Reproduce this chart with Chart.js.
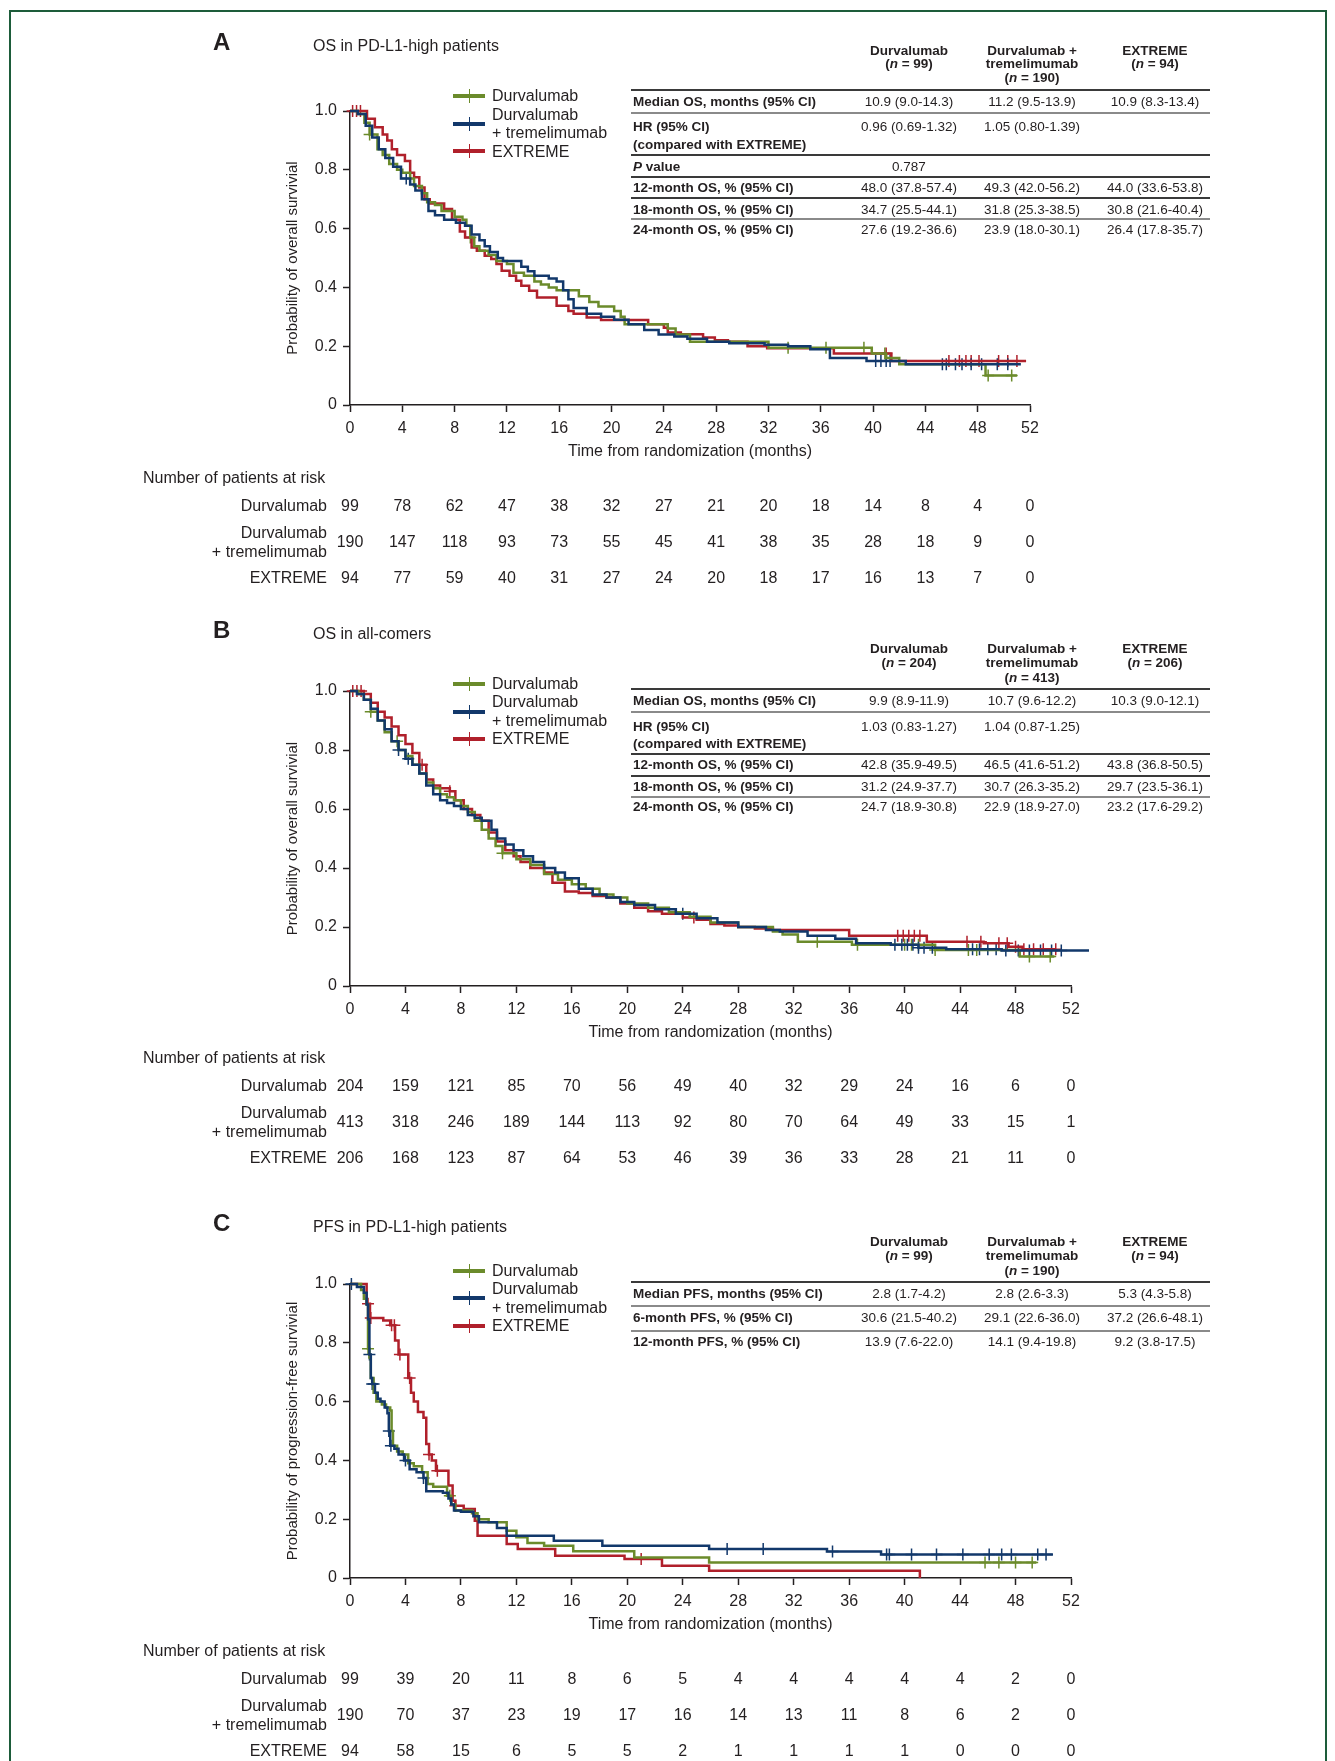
<!DOCTYPE html>
<html>
<head>
<meta charset="utf-8">
<title>Kaplan-Meier curves</title>
<script src="https://cdn.jsdelivr.net/npm/chart.js@4.4.1/dist/chart.umd.min.js"></script>
<style>
  html, body { margin: 0; padding: 0; background: #fff; }
  body { position: relative; width: 1335px; height: 1761px; overflow: hidden;
         font-family: "Liberation Sans", Arial, Helvetica, sans-serif; color: #231f20; }
  #frame { position: absolute; left: 9px; top: 10px; width: 1314px; height: 1800px;
           border: 2px solid #1d5c3a; border-bottom: none; }
  canvas { position: absolute; left: 0; }
  .t { position: absolute; white-space: nowrap; line-height: 1; }
  .box { position: absolute; }
</style>
</head>
<body>
<div id="frame"></div>
<canvas id="chartA" width="1335" height="600" style="top:0px"></canvas>
<canvas id="chartB" width="1335" height="580" style="top:600px"></canvas>
<canvas id="chartC" width="1335" height="581" style="top:1180px"></canvas>
<script>
var FONT = '"Liberation Sans", Arial, Helvetica, sans-serif';
var INK = '#231f20';
var GREEN = '#6b8b2b', BLUE = '#12386b', RED = '#b0202b';

// axes
var months = [0, 4, 8, 12, 16, 20, 24, 28, 32, 36, 40, 44, 48, 52];
var yTicks = [0, 0.2, 0.4, 0.6, 0.8, 1];
var yTickLabels = ['0', '0.2', '0.4', '0.6', '0.8', '1.0'];
var riskLabels = [['Durvalumab'], ['Durvalumab', '+ tremelimumab'], ['EXTREME']];
var legendLabels = [['Durvalumab'], ['Durvalumab', '+ tremelimumab'], ['EXTREME']];

// ---- A: OS in PD-L1-high patients ----
var aDurT = [0,0.6,1.1,1.5,2.1,2.5,3.0,3.6,4.0,4.6,4.9,5.5,5.9,6.5,7.0,8.0,8.6,8.9,9.2,9.5,9.9,10.6,11.2,12.0,12.5,13.3,14.1,14.6,15.2,15.8,17.5,18.3,19.0,20.2,20.7,21.0,24.3,24.9,26.0,32.0,39.9,41.0,42.0,48.6,51.0];
var aDurS = [1,0.99,0.96,0.92,0.87,0.85,0.82,0.80,0.79,0.77,0.745,0.72,0.69,0.68,0.66,0.64,0.63,0.61,0.57,0.54,0.525,0.51,0.49,0.48,0.45,0.44,0.42,0.41,0.40,0.39,0.37,0.35,0.335,0.32,0.30,0.275,0.26,0.24,0.215,0.195,0.175,0.16,0.139,0.10,0.10];
var aDurC = [1.5, 9.2, 33.5, 36.4, 39.3, 40.9, 48.8, 50.6];
var aDtT = [0,0.6,1.2,1.7,2.2,2.7,3.3,3.9,4.6,5.0,5.5,6.0,6.5,7.2,8.1,8.8,9.3,9.9,10.3,10.7,11.3,11.7,13.1,13.6,14.1,15.2,15.8,16.3,16.7,17.1,18.1,19.2,20.2,21.3,22.5,23.6,24.8,25.8,27.3,29.0,31.7,33.5,35.2,36.7,39.5,42.5,51.3];
var aDtS = [1,0.99,0.95,0.91,0.87,0.84,0.81,0.77,0.75,0.73,0.70,0.66,0.645,0.63,0.62,0.61,0.58,0.56,0.54,0.52,0.50,0.49,0.47,0.455,0.44,0.43,0.42,0.39,0.36,0.33,0.31,0.30,0.29,0.275,0.255,0.24,0.233,0.225,0.215,0.21,0.205,0.20,0.19,0.16,0.15,0.139,0.139];
var aDtC = [4.3, 40.2, 40.6, 41.0, 41.3, 45.3, 45.6, 46.3, 46.8, 47.5, 48.3, 49.5, 50.3];
var aExT = [0,1.3,1.9,2.5,2.85,3.2,3.6,4.2,4.6,4.9,5.3,5.7,6.1,7.2,7.8,8.4,8.8,9.3,9.7,10.3,10.8,11.2,11.6,12.2,12.7,13.1,13.7,14.3,15.8,16.7,17.1,18.1,19.2,22.8,24.0,24.3,25.3,27.0,27.9,28.9,30.4,31.9,37.0,41.4,51.7];
var aExS = [1,0.974,0.945,0.92,0.90,0.87,0.85,0.83,0.79,0.775,0.74,0.70,0.685,0.667,0.63,0.59,0.57,0.536,0.525,0.508,0.497,0.48,0.457,0.44,0.423,0.406,0.389,0.366,0.338,0.32,0.31,0.298,0.289,0.275,0.263,0.247,0.241,0.23,0.22,0.215,0.20,0.193,0.175,0.15,0.15];
var aExC = [0.2, 0.5, 0.8, 41.0, 45.8, 46.6, 47.1, 47.5, 48.1, 49.6, 50.3, 51.0];
var aRiskDur = [99, 78, 62, 47, 38, 32, 27, 21, 20, 18, 14, 8, 4, 0];
var aRiskDt = [190, 147, 118, 93, 73, 55, 45, 41, 38, 35, 28, 18, 9, 0];
var aRiskEx = [94, 77, 59, 40, 31, 27, 24, 20, 18, 17, 16, 13, 7, 0];
var tabAHeads = [['Durvalumab', '(<i>n</i> = 99)'], ['Durvalumab +', 'tremelimumab', '(<i>n</i> = 190)'], ['EXTREME', '(<i>n</i> = 94)']];
var tabARows = [
  [['Median OS, months (95% CI)'], '10.9 (9.0-14.3)', '11.2 (9.5-13.9)', '10.9 (8.3-13.4)'],
  [['HR (95% CI)', '(compared with EXTREME)'], '0.96 (0.69-1.32)', '1.05 (0.80-1.39)', ''],
  [['<i>P</i> value'], '0.787', '', ''],
  [['12-month OS, % (95% CI)'], '48.0 (37.8-57.4)', '49.3 (42.0-56.2)', '44.0 (33.6-53.8)'],
  [['18-month OS, % (95% CI)'], '34.7 (25.5-44.1)', '31.8 (25.3-38.5)', '30.8 (21.6-40.4)'],
  [['24-month OS, % (95% CI)'], '27.6 (19.2-36.6)', '23.9 (18.0-30.1)', '26.4 (17.8-35.7)']
];

// ---- B: OS in all-comers ----
var bDurT = [0,0.6,1.0,1.5,2.0,2.5,3.0,3.5,4.0,4.5,5.0,5.5,6.0,6.5,7.0,7.5,8.0,8.5,9.0,9.5,10.0,10.5,11.0,12.0,13.0,14.0,15.0,16.0,17.0,18.0,19.0,20.0,21.5,23.0,24.5,26.0,28.0,30.5,31.2,32.3,36.2,42.2,48.3,50.8];
var bDurS = [1,0.99,0.97,0.93,0.90,0.86,0.83,0.80,0.78,0.75,0.72,0.69,0.67,0.65,0.64,0.63,0.61,0.59,0.56,0.53,0.50,0.475,0.45,0.43,0.41,0.38,0.36,0.345,0.33,0.31,0.30,0.28,0.265,0.25,0.235,0.215,0.20,0.185,0.175,0.15,0.14,0.122,0.10,0.10];
var bDurC = [1.5, 3.4, 11.0, 33.7, 36.6, 40.0, 40.5, 41.0, 42.2, 44.6, 45.2, 49.0, 50.5];
var bDtT = [0,0.5,1.0,1.5,2.0,2.5,3.0,3.5,4.0,4.5,5.0,5.5,6.0,6.5,7.0,7.5,8.0,8.5,9.0,9.5,10.2,10.6,11.2,11.8,12.5,13.2,14.0,14.8,15.5,16.5,17.5,18.5,19.5,20.5,22.0,23.5,25.0,26.5,28.0,30.0,31.0,33.0,35.0,36.5,39.0,41.0,43.0,47.0,53.3];
var bDtS = [1,0.99,0.97,0.94,0.90,0.87,0.83,0.80,0.77,0.75,0.72,0.68,0.65,0.63,0.62,0.61,0.60,0.58,0.57,0.56,0.53,0.50,0.48,0.46,0.44,0.42,0.40,0.385,0.365,0.33,0.31,0.30,0.285,0.275,0.26,0.245,0.23,0.215,0.20,0.19,0.185,0.17,0.16,0.145,0.14,0.13,0.125,0.12,0.12];
var bDtC = [3.5, 4.2, 24.0, 39.3, 39.8, 40.2, 40.6, 41.0, 41.4, 42.0, 44.9, 45.4, 46.0, 46.6, 47.3, 48.2, 49.0, 49.8, 50.6, 51.3, 53.3];
var bExT = [0,1.0,1.5,2.0,2.5,3.0,3.5,4.0,4.5,5.0,5.5,6.0,6.5,7.2,7.6,8.2,8.8,9.4,10.0,10.6,11.2,11.8,12.3,13.0,14.0,14.6,15.5,16.5,17.5,18.5,19.5,20.5,21.5,22.5,24.0,25.0,26.0,27.0,28.0,29.2,30.5,36.0,41.6,45.7,47.5,48.5,50.9];
var bExS = [1,0.99,0.96,0.93,0.91,0.88,0.85,0.82,0.79,0.75,0.70,0.68,0.67,0.66,0.63,0.60,0.58,0.56,0.52,0.49,0.46,0.44,0.42,0.40,0.385,0.35,0.32,0.315,0.305,0.30,0.28,0.265,0.253,0.245,0.232,0.225,0.21,0.205,0.20,0.195,0.19,0.17,0.15,0.145,0.133,0.125,0.125];
var bExC = [0.2, 0.5, 0.8, 5.2, 7.2, 24.8, 39.5, 39.9, 40.3, 40.7, 41.1, 44.5, 45.5, 46.8, 47.4, 48.0, 48.6, 49.3, 50.0, 50.9];
var bRiskDur = [204, 159, 121, 85, 70, 56, 49, 40, 32, 29, 24, 16, 6, 0];
var bRiskDt = [413, 318, 246, 189, 144, 113, 92, 80, 70, 64, 49, 33, 15, 1];
var bRiskEx = [206, 168, 123, 87, 64, 53, 46, 39, 36, 33, 28, 21, 11, 0];
var tabBHeads = [['Durvalumab', '(<i>n</i> = 204)'], ['Durvalumab +', 'tremelimumab', '(<i>n</i> = 413)'], ['EXTREME', '(<i>n</i> = 206)']];
var tabBRows = [
  [['Median OS, months (95% CI)'], '9.9 (8.9-11.9)', '10.7 (9.6-12.2)', '10.3 (9.0-12.1)'],
  [['HR (95% CI)', '(compared with EXTREME)'], '1.03 (0.83-1.27)', '1.04 (0.87-1.25)', ''],
  [['12-month OS, % (95% CI)'], '42.8 (35.9-49.5)', '46.5 (41.6-51.2)', '43.8 (36.8-50.5)'],
  [['18-month OS, % (95% CI)'], '31.2 (24.9-37.7)', '30.7 (26.3-35.2)', '29.7 (23.5-36.1)'],
  [['24-month OS, % (95% CI)'], '24.7 (18.9-30.8)', '22.9 (18.9-27.0)', '23.2 (17.6-29.2)']
];

// ---- C: PFS in PD-L1-high patients ----
var cDurT = [0,0.8,1.0,1.2,1.3,1.4,1.5,1.7,1.9,2.3,2.6,2.9,3.0,3.1,3.4,3.8,4.2,4.6,5.2,5.6,6.0,7.0,7.3,7.6,8.8,9.2,10.0,11.3,12.0,12.8,14.0,16.1,20.5,25.9,49.5];
var cDurS = [1,0.98,0.95,0.93,0.78,0.75,0.68,0.63,0.60,0.59,0.58,0.57,0.50,0.45,0.43,0.42,0.39,0.38,0.36,0.32,0.31,0.28,0.25,0.23,0.22,0.20,0.19,0.161,0.139,0.119,0.11,0.091,0.07,0.053,0.053];
var cDurC = [1.3, 7.2, 45.8, 46.8, 48.0, 49.2];
var cDtT = [0,0.5,1.0,1.2,1.3,1.4,1.5,1.6,1.8,2.0,2.2,2.5,2.7,2.8,2.9,3.2,3.5,3.9,4.3,4.8,5.3,5.5,6.7,7.1,7.3,7.5,8.0,8.9,9.3,10.6,11.3,14.7,18.2,25.9,34.4,38.3,50.7];
var cDtS = [1,0.99,0.97,0.93,0.88,0.76,0.68,0.66,0.63,0.61,0.60,0.58,0.56,0.50,0.45,0.44,0.42,0.40,0.37,0.36,0.34,0.295,0.29,0.27,0.25,0.23,0.225,0.21,0.19,0.17,0.144,0.127,0.11,0.099,0.09,0.08,0.08];
var cDtC = [0.1, 1.4, 1.6, 1.7, 2.8, 2.95, 4.0, 5.3, 27.2, 29.8, 34.8, 38.7, 38.9, 40.5, 42.3, 44.2, 46.1, 47.0, 47.7, 49.6, 50.2];
var cExT = [0,1.2,1.44,2.4,2.9,3.25,3.5,4.2,4.4,4.6,4.9,5.3,5.5,5.7,5.9,6.2,7.1,7.4,7.6,8.2,9.0,9.2,11.3,12.1,14.8,19.8,22.5,25.9,41.1];
var cExS = [1,0.933,0.884,0.876,0.86,0.808,0.76,0.68,0.63,0.60,0.565,0.545,0.456,0.42,0.40,0.365,0.315,0.263,0.246,0.235,0.195,0.144,0.116,0.099,0.076,0.065,0.042,0.025,0];
var cExC = [1.3, 1.5, 3.0, 3.2, 3.6, 4.3, 5.7, 6.3, 7.6, 21.0];
var cRiskDur = [99, 39, 20, 11, 8, 6, 5, 4, 4, 4, 4, 4, 2, 0];
var cRiskDt = [190, 70, 37, 23, 19, 17, 16, 14, 13, 11, 8, 6, 2, 0];
var cRiskEx = [94, 58, 15, 6, 5, 5, 2, 1, 1, 1, 1, 0, 0, 0];
var tabCHeads = [['Durvalumab', '(<i>n</i> = 99)'], ['Durvalumab +', 'tremelimumab', '(<i>n</i> = 190)'], ['EXTREME', '(<i>n</i> = 94)']];
var tabCRows = [
  [['Median PFS, months (95% CI)'], '2.8 (1.7-4.2)', '2.8 (2.6-3.3)', '5.3 (4.3-5.8)'],
  [['6-month PFS, % (95% CI)'], '30.6 (21.5-40.2)', '29.1 (22.6-36.0)', '37.2 (26.6-48.1)'],
  [['12-month PFS, % (95% CI)'], '13.9 (7.6-22.0)', '14.1 (9.4-19.8)', '9.2 (3.8-17.5)']
];

var colors = [GREEN, BLUE, RED];
var colX = [909, 1032, 1155];

var panels = [
  { id: 'chartA', top: 0, h: 600, area: { top: 111, bottom: 405, right: 1030 },
    letter: 'A', letterY: 42, title: 'OS in PD-L1-high patients', titleY: 46,
    yTitle: 'Probability of overall survivial',
    arms: [[aDurT, aDurS, aDurC], [aDtT, aDtS, aDtC], [aExT, aExS, aExC]],
    risk: [aRiskDur, aRiskDt, aRiskEx], riskTitleY: 479, riskY: [507, 543, 579],
    legY: [96, 124, 151], legTextY: [[96], [115, 133], [152]],
    heads: tabAHeads, headY: [51, 64, 78], rows: tabARows,
    rowY: [[102], [127, 145], [167], [188], [210], [230]],
    rules: [90, 113, 155, 177, 198, 219], ruleDark: [1, 0, 1, 1, 1, 0] },
  { id: 'chartB', top: 600, h: 580, area: { top: 691, bottom: 986, right: 1071 },
    letter: 'B', letterY: 630, title: 'OS in all-comers', titleY: 634,
    yTitle: 'Probability of overall survivial',
    arms: [[bDurT, bDurS, bDurC], [bDtT, bDtS, bDtC], [bExT, bExS, bExC]],
    risk: [bRiskDur, bRiskDt, bRiskEx], riskTitleY: 1059, riskY: [1087, 1123, 1159],
    legY: [684, 712, 739], legTextY: [[684], [702, 721], [739]],
    heads: tabBHeads, headY: [649, 663, 678], rows: tabBRows,
    rowY: [[701], [727, 744], [765], [787], [807]],
    rules: [689, 712, 754, 776, 797], ruleDark: [1, 0, 1, 1, 0] },
  { id: 'chartC', top: 1180, h: 581, area: { top: 1284, bottom: 1578, right: 1071 },
    letter: 'C', letterY: 1223, title: 'PFS in PD-L1-high patients', titleY: 1227,
    yTitle: 'Probability of progression-free survivial',
    arms: [[cDurT, cDurS, cDurC], [cDtT, cDtS, cDtC], [cExT, cExS, cExC]],
    risk: [cRiskDur, cRiskDt, cRiskEx], riskTitleY: 1652, riskY: [1680, 1716, 1752],
    legY: [1271, 1298, 1326], legTextY: [[1271], [1289, 1308], [1326]],
    heads: tabCHeads, headY: [1242, 1256, 1271], rows: tabCRows,
    rowY: [[1294], [1318], [1342]],
    rules: [1282, 1306, 1331], ruleDark: [1, 0, 0] }
];

function stepAt(ts, ss, t) {
  var v = ss[0];
  for (var i = 0; i < ts.length; i++) { if (ts[i] <= t) v = ss[i]; }
  return v;
}

function addText(html, x, cy, size, opt) {
  opt = opt || {};
  var d = document.createElement('div');
  d.className = 't';
  d.innerHTML = html;
  d.style.fontSize = size + 'px';
  d.style.top = (cy - size / 2) + 'px';
  if (opt.center) { d.style.left = (x - 100) + 'px'; d.style.width = '200px'; d.style.textAlign = 'center'; }
  else d.style.left = x + 'px';
  if (opt.bold) d.style.fontWeight = 'bold';
  document.body.appendChild(d);
}

function addBox(x, y, w, h, color) {
  var d = document.createElement('div');
  d.className = 'box';
  d.style.left = x + 'px'; d.style.top = y + 'px';
  d.style.width = w + 'px'; d.style.height = h + 'px';
  d.style.background = color;
  document.body.appendChild(d);
}

function riskPlugin(p) {
  return {
    id: 'risk' + p.id,
    afterDraw: function(chart) {
      var ctx = chart.ctx, xs = chart.scales.x;
      ctx.save();
      ctx.fillStyle = INK;
      ctx.font = '16px ' + FONT;
      ctx.textBaseline = 'middle';
      ctx.textAlign = 'left';
      ctx.fillText('Number of patients at risk', 143, p.riskTitleY - p.top);
      p.risk.forEach(function(vals, r) {
        var y = p.riskY[r] - p.top;
        var lab = riskLabels[r];
        ctx.textAlign = 'right';
        if (lab.length === 1) ctx.fillText(lab[0], 327, y);
        else { ctx.fillText(lab[0], 327, y - 9.5); ctx.fillText(lab[1], 327, y + 9.5); }
        ctx.textAlign = 'center';
        vals.forEach(function(v, i) { ctx.fillText(String(v), xs.getPixelForValue(months[i]), y); });
      });
      ctx.restore();
    }
  };
}

function drawPanel(p) {
  var ds = [];
  // curves: blue on top, then green, then red
  [1, 0, 2].forEach(function(k) {
    var a = p.arms[k];
    ds.push({
      data: a[0].map(function(t, i) { return { x: t, y: a[1][i] }; }),
      borderColor: colors[k], borderWidth: 2.5, stepped: 'before',
      pointRadius: 0, fill: false, clip: false
    });
  });
  [1, 0, 2].forEach(function(k) {
    var a = p.arms[k];
    ds.push({
      data: a[2].map(function(t) { return { x: t, y: stepAt(a[0], a[1], t) }; }),
      showLine: false, pointStyle: 'cross', pointRadius: 6, pointBorderWidth: 1.5,
      borderColor: colors[k], pointBorderColor: colors[k], clip: false
    });
  });

  var axisFont = { family: FONT, size: 16 };
  var gridOpts = { drawOnChartArea: false, drawTicks: true, tickLength: 7, tickWidth: 1.5, tickColor: INK };
  new Chart(document.getElementById(p.id).getContext('2d'), {
    type: 'line',
    data: { datasets: ds },
    options: {
      responsive: false, animation: false, events: [],
      layout: { padding: { left: 284, right: 1335 - p.area.right, top: p.area.top - p.top,
                           bottom: p.top + p.h - p.area.bottom - 56 } },
      plugins: { legend: { display: false }, tooltip: { enabled: false } },
      scales: {
        x: {
          type: 'linear', min: 0, max: 52,
          afterBuildTicks: function(s) { s.ticks = months.map(function(v) { return { value: v }; }); },
          afterFit: function(s) { s.height = 56; },
          grid: gridOpts,
          border: { display: true, color: INK, width: 1.5 },
          ticks: { color: INK, font: axisFont, padding: 7, maxRotation: 0, autoSkip: false },
          title: { display: true, text: 'Time from randomization (months)', color: INK,
                   font: { family: FONT, size: 16 }, padding: 0 }
        },
        y: {
          type: 'linear', min: 0, max: 1,
          afterBuildTicks: function(s) { s.ticks = yTicks.map(function(v) { return { value: v }; }); },
          afterFit: function(s) { s.width = 66; },
          grid: gridOpts,
          border: { display: true, color: INK, width: 1.5 },
          ticks: { color: INK, font: axisFont, padding: 6,
                   callback: function(v, i) { return yTickLabels[i]; } },
          title: { display: true, text: p.yTitle, color: INK, font: { family: FONT, size: 15 }, padding: 0 }
        }
      }
    },
    plugins: [riskPlugin(p)]
  });

  // letter and title
  addText(p.letter, 213, p.letterY, 24, { bold: true });
  addText(p.title, 313, p.titleY, 16);

  // legend
  for (var k = 0; k < 3; k++) {
    addBox(453, p.legY[k] - 2, 32, 4, colors[k]);
    addBox(468.5, p.legY[k] - 7, 1.5, 14, colors[k]);
    legendLabels[k].forEach(function(line, j) { addText(line, 492, p.legTextY[k][j], 16); });
  }

  // summary table
  p.heads.forEach(function(lines, c) {
    lines.forEach(function(line, j) { addText(line, colX[c], p.headY[j], 13.5, { bold: true, center: true }); });
  });
  p.rules.forEach(function(y, i) {
    addBox(631, y - 0.75, 579, 1.5, p.ruleDark[i] ? '#3a3a3a' : '#8a8a8a');
  });
  p.rows.forEach(function(row, r) {
    row[0].forEach(function(line, j) { addText(line, 633, p.rowY[r][j], 13.5, { bold: true }); });
    for (var c = 0; c < 3; c++) {
      if (row[c + 1]) addText(row[c + 1], colX[c], p.rowY[r][0], 13.5, { center: true });
    }
  });
}

panels.forEach(drawPanel);
</script>
</body>
</html>
